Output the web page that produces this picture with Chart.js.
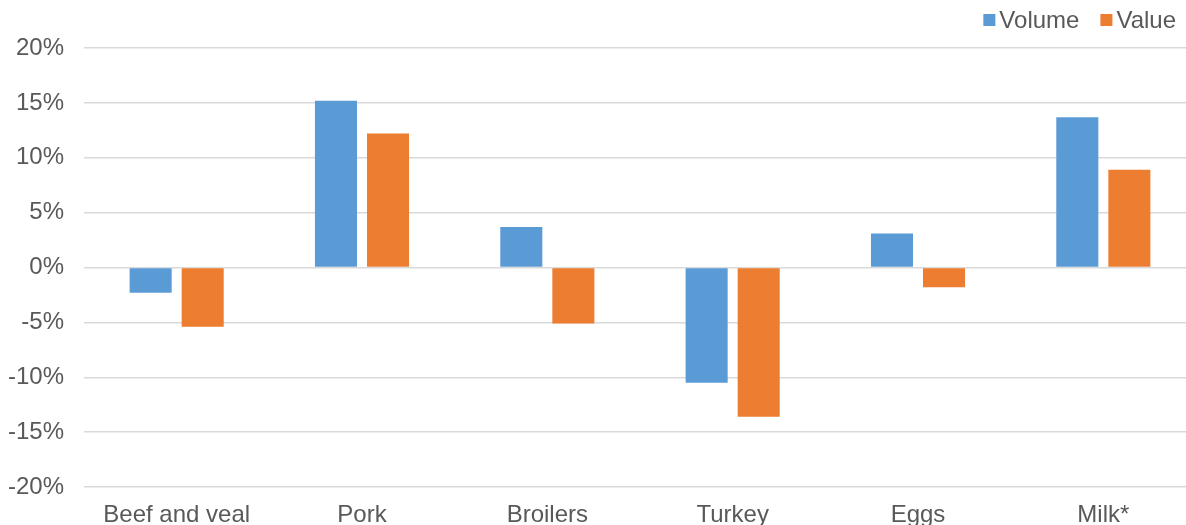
<!DOCTYPE html>
<html>
<head>
<meta charset="utf-8">
<script src="https://cdn.jsdelivr.net/npm/chart.js@4.4.1/dist/chart.umd.min.js"></script>
<style>
  html, body { margin: 0; padding: 0; background: #fff; overflow: hidden; }
  #wrap { width: 1196px; height: 525px; }
</style>
</head>
<body>
<div id="wrap"><canvas id="chart"></canvas></div>
<script>
// Chart data
const categories = ['Beef and veal', 'Pork', 'Broilers', 'Turkey', 'Eggs', 'Milk*'];
const volume = [-2.3, 15.2, 3.7, -10.5, 3.1, 13.7];
const value = [-5.4, 12.2, -5.1, -13.6, -1.8, 8.9];
const yTicks = [-20, -15, -10, -5, 0, 5, 10, 15, 20];

const FONT = '"Liberation Sans", Arial, sans-serif';
Chart.defaults.font.family = FONT;
Chart.defaults.color = '#595959';

// Legend drawn top right, Excel style (small square, tight gap)
const topLegend = {
  id: 'topLegend',
  afterDraw(chart) {
    const c = chart.ctx;
    c.save();
    c.font = '24px ' + FONT;
    c.textBaseline = 'middle';
    c.textAlign = 'left';
    const items = chart.data.datasets.map(ds => ({ text: ds.label, color: ds.backgroundColor }));
    const box = 12, gap = 4, itemGap = 21, y = 20;
    let total = 0;
    items.forEach((it, i) => { total += box + gap + c.measureText(it.text).width + (i ? itemGap : 0); });
    let x = 1176 - total;
    items.forEach(it => {
      c.fillStyle = it.color;
      c.fillRect(x, y - 6, box, box);
      x += box + gap;
      c.fillStyle = '#595959';
      c.fillText(it.text, x, y + 1);
      x += c.measureText(it.text).width + itemGap;
    });
    c.restore();
  }
};

const ctx = document.getElementById('chart');
const chart = new Chart(ctx, {
  type: 'bar',
  data: {
    labels: categories,
    datasets: [{
      label: 'Volume',
      data: volume,
      backgroundColor: '#5b9bd5'
    },
    {
      label: 'Value',
      data: value,
      backgroundColor: '#ed7d31'
    }]
  },
  options: {
    responsive: true,
    maintainAspectRatio: false,
    animation: false,
    categoryPercentage: 0.5616,
    barPercentage: 0.808,
    layout: {
      padding: { left: 0, right: 0, top: 48, bottom: 0 }
    },
    plugins: {
      legend: { display: false },
      tooltip: { enabled: false }
    },
    scales: {
      x: {
        grid: { display: false },
        border: { display: false },
        afterFit: s => { s.height = 38; },
        ticks: {
          font: { size: 24, lineHeight: 1 },
          color: '#595959',
          padding: 8,
          maxRotation: 0
        }
      },
      y: {
        min: -20,
        max: 20,
        afterBuildTicks: axis => { axis.ticks = yTicks.map(v => ({ value: v })); },
        afterFit: s => { s.width = 84; },
        grid: {
          color: '#d9d9d9',
          lineWidth: 1.5,
          drawTicks: false
        },
        border: { display: false },
        ticks: {
          font: { size: 24 },
          color: '#595959',
          padding: 20,
          callback: v => v + '%'
        }
      }
    }
  },
  plugins: [topLegend]
});
</script>
</body>
</html>
